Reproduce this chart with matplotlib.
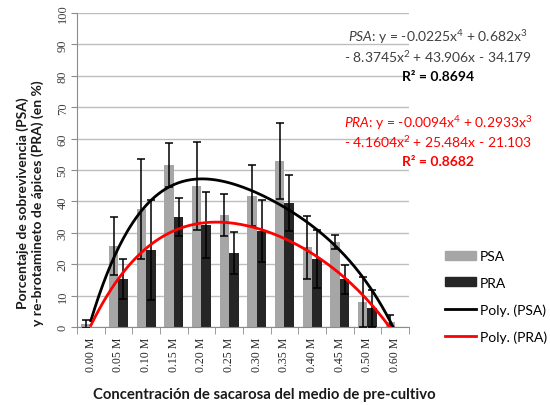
import numpy as np
import matplotlib
matplotlib.use("Agg")
import matplotlib.pyplot as plt
from matplotlib.patches import Patch
from matplotlib.lines import Line2D

plt.rcParams['font.family'] = ['Lato', 'DejaVu Sans']
plt.rcParams['mathtext.fontset'] = 'custom'
plt.rcParams['mathtext.rm'] = 'Lato'
plt.rcParams['mathtext.it'] = 'Lato:italic'
plt.rcParams['mathtext.bf'] = 'Lato:bold'

# sucrose concentration in the pre-culture medium
conc = ['0.00 M', '0.05 M', '0.10 M', '0.15 M', '0.20 M', '0.25 M',
        '0.30 M', '0.35 M', '0.40 M', '0.45 M', '0.50 M', '0.60 M']
psa = [1.0, 25.8, 37.6, 51.6, 45.0, 35.6, 41.8, 52.9, 25.4, 27.2, 7.9, 1.7]
psa_err = [1.2, 9.2, 15.8, 7.0, 14.0, 6.6, 9.7, 12.2, 10.0, 2.2, 7.9, 2.2]
pra = [0.0, 15.4, 24.5, 35.1, 32.5, 23.6, 30.5, 39.5, 21.7, 15.2, 5.9, 0.0]
pra_err = [0.0, 6.4, 16.0, 6.0, 10.5, 6.6, 9.9, 8.9, 9.2, 4.6, 5.8, 0.0]

# 4th order trend lines (x = category number 1..12)
psa_coef = [-0.0225, 0.682, -8.3745, 43.906, -34.179]
pra_coef = [-0.0094, 0.2933, -4.1604, 25.484, -21.103]
psa_r2 = 0.8694
pra_r2 = 0.8682

GRAY = '#a6a6a6'
DARK = '#262626'
RED = '#ff0000'

fig = plt.figure(figsize=(5.5, 4.06), dpi=100)
ax = fig.add_axes([0.14, 0.1921, 0.6036, 0.7734])

n = len(conc)
x = np.arange(n)
w = 0.34

ax.bar(x - w / 2, psa, w, color=GRAY, zorder=2)
ax.bar(x + w / 2, pra, w, color=DARK, zorder=2)

psa_e = np.array(psa_err)
pra_e = np.array(pra_err)
m1 = psa_e > 0
m2 = pra_e > 0
ax.errorbar((x - w / 2)[m1], np.array(psa)[m1], yerr=psa_e[m1], fmt='none',
            ecolor='black', elinewidth=1.1, capsize=3, capthick=1.1, zorder=3)
ax.errorbar((x + w / 2)[m2], np.array(pra)[m2], yerr=pra_e[m2], fmt='none',
            ecolor='black', elinewidth=1.1, capsize=3, capthick=1.1, zorder=3)

xs = np.linspace(1, n, 300)
ax.plot(xs - 1, np.polyval(psa_coef, xs), color='black', lw=2, zorder=4)
ax.plot(xs - 1, np.polyval(pra_coef, xs), color=RED, lw=2, zorder=4)

ax.set_xlim(-0.5, n - 0.5)
ax.set_ylim(0, 100)
ax.set_yticks(np.arange(0, 101, 10))
ax.yaxis.grid(True, color='#bebebe', lw=1, zorder=0)
ax.set_axisbelow(True)
for s in ['top', 'right']:
    ax.spines[s].set_visible(False)
for s in ['left', 'bottom']:
    ax.spines[s].set_color('#8c8c8c')

ax.set_xticks(x)
ax.set_xticklabels(conc, rotation=90, family='Liberation Serif', fontsize=8.5,
                   color='#262626', va='top')
ax.tick_params(axis='x', which='major', length=0, pad=7)
ax.set_xticks(np.arange(-0.5, n, 1), minor=True)
ax.tick_params(axis='x', which='minor', length=5, color='#8c8c8c')
ax.tick_params(axis='y', length=4, color='#8c8c8c', pad=2)
for t in ax.get_yticklabels():
    t.set_rotation(90)
    t.set_va('center')
    t.set_family('Liberation Serif')
    t.set_fontsize(9)
    t.set_color('#404040')

fig.text(0.055, 0.5, 'Porcentaje de sobrevivencia (PSA)\ny re-brotamineto de ápices (PRA) (en %)',
         rotation=90, ha='center', va='center', fontsize=10, fontweight='bold',
         color='#1a1a1a', linespacing=1.25)
fig.text(264.5 / 550, 1 - 395 / 406, 'Concentración de sacarosa del medio de pre-cultivo',
         ha='center', va='center', fontsize=10.7, fontweight='bold', color='#1a1a1a')


def eq_lines(name, c):
    l1 = rf"$\mathit{{{name}}}$: y = {c[0]}x$^4$ + {c[1]}x$^3$"
    l2 = rf"- {abs(c[2])}x$^2$ + {c[3]}x - {abs(c[4])}"
    return l1, l2


cx = 438 / 550
l1, l2 = eq_lines('PSA', psa_coef)
fig.text(cx, 1 - 37 / 406, l1, ha='center', va='center', fontsize=10, color='#404040')
fig.text(cx, 1 - 57 / 406, l2, ha='center', va='center', fontsize=10, color='#404040')
fig.text(cx, 1 - 77 / 406, f'R² = {psa_r2}', ha='center', va='center', fontsize=10,
         fontweight='bold', color='black')
l1, l2 = eq_lines('PRA', pra_coef)
fig.text(cx, 1 - 123 / 406, l1, ha='center', va='center', fontsize=10, color=RED)
fig.text(cx, 1 - 142 / 406, l2, ha='center', va='center', fontsize=10, color=RED)
fig.text(cx, 1 - 162 / 406, f'R² = {pra_r2}', ha='center', va='center', fontsize=10,
         fontweight='bold', color=RED)

handles = [Patch(color=GRAY), Patch(color=DARK),
           Line2D([], [], color='black', lw=2), Line2D([], [], color=RED, lw=2)]
labels = ['PSA', 'PRA', 'Poly. (PSA)', 'Poly. (PRA)']
fig.legend(handles, labels, loc='center left', bbox_to_anchor=(445 / 550, 1 - 297.5 / 406),
           frameon=False, fontsize=10, handlelength=2.2, handleheight=0.6,
           handletextpad=0.3, labelspacing=1.05, borderpad=0, borderaxespad=0)

fig.savefig('out.png', dpi=100)
